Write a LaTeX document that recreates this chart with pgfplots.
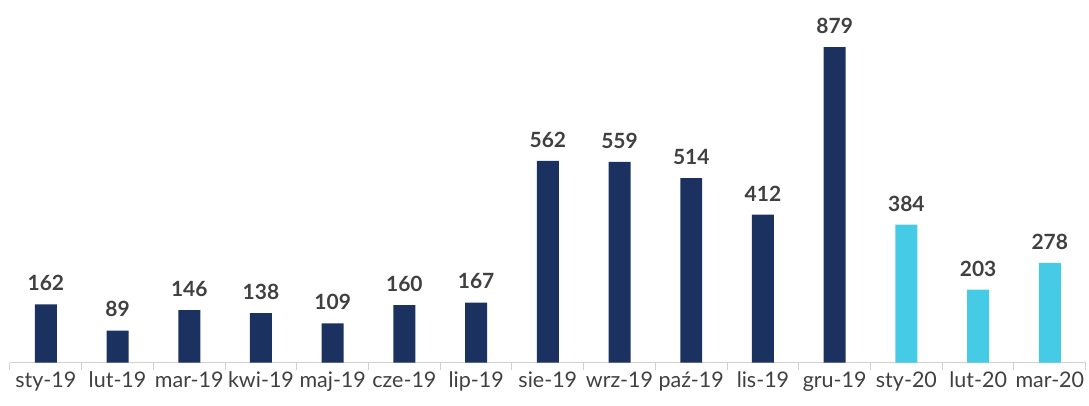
\documentclass[border=0pt]{standalone}
\usepackage{pgfplots}
\pgfplotsset{compat=1.18}
\usepackage{fontspec}
\setmainfont{Lato}
\definecolor{navy}{HTML}{1B3160}
\definecolor{cyanb}{HTML}{46CBE7}
\definecolor{txt}{HTML}{404040}
\definecolor{axg}{HTML}{D0D0D0}
\begin{document}
\begin{tikzpicture}
\begin{axis}[
  scale only axis,
  width=1077pt, height=363pt,
  xmin=-0.5, xmax=14.5, ymin=0, ymax=1010,
  axis x line=bottom, axis line style={axg, line width=1pt, -},
  hide y axis,
  xtick={0,...,14},
  xticklabels={sty-19,lut-19,mar-19,kwi-19,maj-19,cze-19,lip-19,sie-19,wrz-19,paź-19,lis-19,gru-19,sty-20,lut-20,mar-20},
  major tick length=0pt,
  extra x ticks={-0.5,0.5,...,14.5},
  extra x tick labels={},
  extra x tick style={major tick length=7pt, tick style={axg, line width=1pt}, tick pos=bottom, tick align=outside},
  x tick label style={font=\fontsize{21.5}{23}\selectfont, text=txt, yshift=-6pt},
  ybar, bar width=22pt, bar shift=0pt,
  nodes near coords,
  /pgf/number format/assume math mode=true,
  every node near coord/.append style={font=\bfseries\fontsize{21}{23}\selectfont, text=txt, yshift=10pt},
  clip=false,
]
\addplot[fill=navy, draw=none] coordinates {(0,162) (1,89) (2,146) (3,138) (4,109) (5,160) (6,167) (7,562) (8,559) (9,514) (10,412) (11,879)};
\addplot[fill=cyanb, draw=none] coordinates {(12,384) (13,203) (14,278)};
\end{axis}
\path ([shift={(-10pt,-43pt)}]current axis.south west) rectangle ([shift={(2pt,0pt)}]current axis.north east);
\end{tikzpicture}
\end{document}
